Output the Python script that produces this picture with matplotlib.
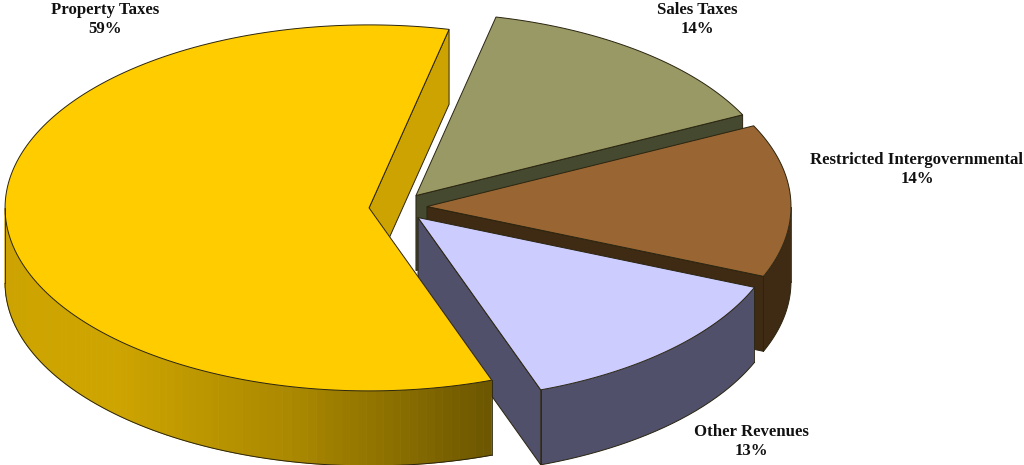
import numpy as np
import matplotlib
matplotlib.use("Agg")
from matplotlib import pyplot as plt
from matplotlib.patches import Polygon

categories = ["Sales Taxes", "Restricted Intergovernmental", "Other Revenues", "Property Taxes"]
shares = [14.2, 13.5, 13.3, 59.0]
top_colors = ["#999966", "#996633", "#CCCCFF", "#FFCC00"]
wall_colors = ["#44492F", "#3F2A13", "#50506A", "#CCA300"]
label_x = [697, 917, 751, 105]
label_y = [19.5, 169.5, 441.5, 19.5]

plt.rcParams["font.family"] = ["Liberation Serif", "DejaVu Serif"]

# pie layout, in pixels
cx, cy = 398, 207
rx, ry = 364, 183
explode = 29
depth = 75
start_angle = 77.3
edge = "#2a2410"

fig = plt.figure(figsize=(10.24, 4.65), dpi=100)
ax = fig.add_axes([0, 0, 1, 1])
ax.set_xlim(0, 1024)
ax.set_ylim(465, 0)
ax.axis("off")


def arc(x0, y0, a1, a2, n=160):
    t = np.radians(np.linspace(a1, a2, n))
    return np.column_stack([x0 + rx * np.cos(t), y0 - ry * np.sin(t)])


angle = start_angle
for name, share, top, wall, lx, ly in zip(categories, shares, top_colors, wall_colors, label_x, label_y):
    a1 = angle
    a2 = angle - share * 3.6
    angle = a2
    mid = np.radians((a1 + a2) / 2)
    x0 = cx + explode * np.cos(mid)
    y0 = cy - explode * ry / rx * np.sin(mid)
    pts = arc(x0, y0, a1, a2)
    drop = np.array([0, depth])

    # outer wall, only the front half of the rim shows
    rim = pts[np.sin(np.radians(np.linspace(a1, a2, len(pts)))) <= 0]
    if len(rim) > 1:
        if name == "Property Taxes":
            for p, q in zip(rim[:-1], rim[1:]):
                f = np.interp((p[0] + q[0]) / 2, [5, 110, 300, 493], [0.80, 0.81, 0.66, 0.42])
                c = (f, f * 0.8, 0)
                ax.add_patch(Polygon([p, q, q + drop, p + drop], fc=c, ec=c, lw=0.6))
        else:
            ax.add_patch(Polygon(np.vstack([rim, rim[::-1] + drop]), fc=wall, ec="none"))
        ax.plot(*(rim + drop).T, color=edge, lw=0.7)
        ax.plot(*np.array([rim[-1], rim[-1] + drop]).T, color=edge, lw=0.6)
        ax.plot(*np.array([rim[0], rim[0] + drop]).T, color=edge, lw=0.6)

    # radial wall on the clockwise side
    apex = np.array([x0, y0])
    end = pts[-1]
    ax.add_patch(Polygon([apex, end, end + drop, apex + drop], fc=wall, ec=edge, lw=0.7))

    # top face
    ax.add_patch(Polygon(np.vstack([apex, pts]), fc=top, ec=edge, lw=0.7))

    ax.text(lx, ly, f"{name}\n{share:.0f}%", ha="center", va="center", fontsize=12.1,
            fontweight="bold", color="#111111", linespacing=1.25)

fig.savefig("out.png", dpi=100)
